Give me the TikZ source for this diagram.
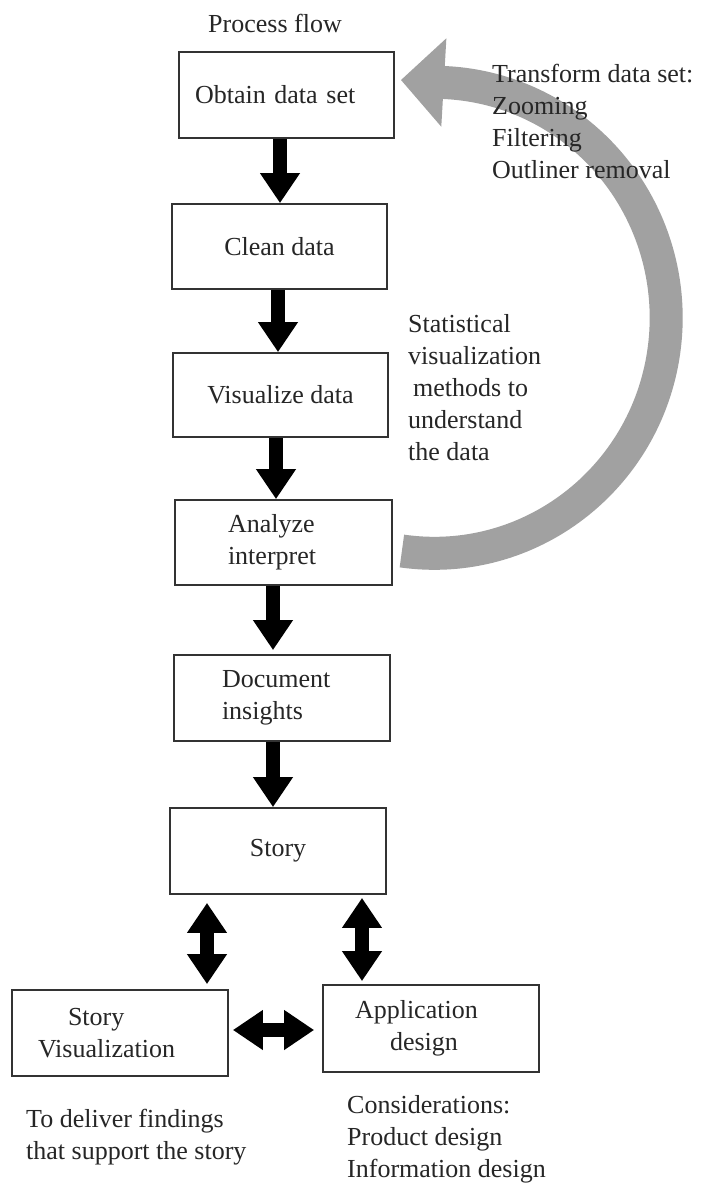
\documentclass[tikz,border=0pt]{standalone}
\usepackage{fontspec}
\setmainfont{Liberation Serif}
\usetikzlibrary{arrows.meta}
\begin{document}
\begin{tikzpicture}[x=1pt,y=-1pt,
  txt/.style={font=\fontsize{26}{32}\selectfont, text=black!85},
  box/.style={txt, draw=black!80, line width=1.8pt, minimum width=216pt,
    minimum height=86pt, inner sep=0pt},
  flow/.style={line width=14pt, -{Triangle[length=30pt,width=38pt]}},
  twoway/.style={line width=14pt,
    {Triangle[length=30pt,width=38pt]}-{Triangle[length=30pt,width=38pt]}},
  loopback/.style={draw=black!37, line width=33pt,
    -{Triangle[length=43pt,width=86pt]}},
  note/.style={txt, align=left, inner sep=0pt, anchor=north west}
]
\fill[white] (0,0) rectangle (701,1184);
\useasboundingbox (0,0) rectangle (701,1184);

% main process boxes
\node[box, minimum width=215pt, text width=183pt, inner xsep=16pt, align=left]
  (obtain) at (286.5,95) {Obtain data set};
\node[box, minimum width=215pt, minimum height=85pt] (clean) at (279.5,246.5) {Clean data};
\node[box, minimum width=215pt, minimum height=84pt] (visual) at (280.5,395) {Visualize data};
\node[box, minimum width=217pt, minimum height=85pt, text width=111pt,
  inner xsep=53pt, align=left] (analyze) at (283.5,542.5) {Analyze\\interpret};
\node[box, text width=120pt, inner xsep=48pt, align=left]
  (document) at (282,698) {Document\\insights};
\node[box] (story) at (278,851) {Story};
\node[box, text width=164pt, inner xsep=26pt, align=left]
  (storyvis) at (120,1033) {\hspace*{30pt}Story\\Visualization};
\node[box, minimum height=87pt, text width=152pt, inner xsep=32pt, align=left]
  (appdesign) at (431,1028.5) {Application\\\hspace*{35pt}design};

% feedback loop from analysis back to the data set
\draw[loopback] ([xshift=9pt,yshift=-8.5pt]analyze.east)
  arc[start angle=98, end angle=-87, x radius=232, y radius=235.5]
  -- ([xshift=6pt,yshift=15pt]obtain.east);

% annotations
\node[txt, anchor=base] (title) at (275,32) {Process flow};
\node[note] (transform) at (492,64)
  {Transform data set:\\Zooming\\Filtering\\Outliner removal};
\node[note] (stat) at (408,314)
  {Statistical\\visualization\\\hspace*{5pt}methods to\\understand\\the data};
\node[note] (deliver) at (26,1109) {To deliver findings\\that support the story};
\node[note] (consider) at (347,1095)
  {Considerations:\\Product design\\Information design};

% arrow axes
\coordinate (a1) at (280,0);
\coordinate (a2) at (278,0);
\coordinate (a3) at (276,0);
\coordinate (a4) at (273,0);
\coordinate (a5) at (273,0);
\coordinate (dl) at (207,0);
\coordinate (dr) at (362,0);
\coordinate (dh) at (0,1030);

% downward flow
\draw[flow] (obtain.south -| a1) -- (clean.north -| a1);
\draw[flow] (clean.south -| a2) -- (visual.north -| a2);
\draw[flow] (visual.south -| a3) -- (analyze.north -| a3);
\draw[flow, shorten >=4pt] (analyze.south -| a4) -- (document.north -| a4);
\draw[flow] (document.south -| a5) -- (story.north -| a5);

% two-way links around the story
\draw[twoway, shorten <=8pt, shorten >=5pt] (story.south -| dl) -- (storyvis.north -| dl);
\draw[twoway, shorten <=3pt, shorten >=3pt] (story.south -| dr) -- (appdesign.north -| dr);
\draw[twoway, shorten <=4pt, shorten >=8pt] (storyvis.east |- dh) -- (appdesign.west |- dh);
\end{tikzpicture}
\end{document}
